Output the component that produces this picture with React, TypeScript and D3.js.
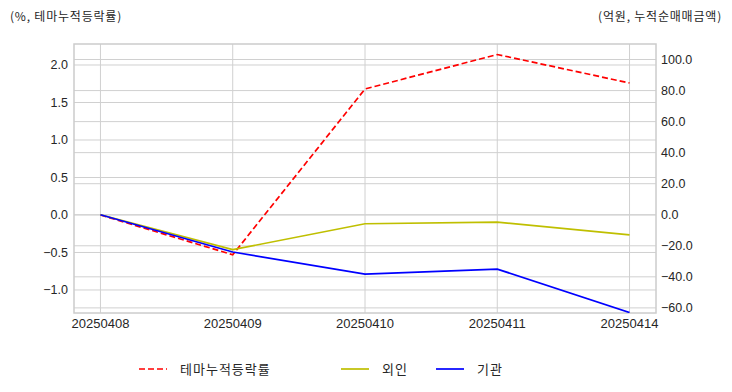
import { useEffect, useRef } from 'react';
import * as d3 from 'd3';

const dates = ['20250408', '20250409', '20250410', '20250411', '20250414'];
const themeRate = [0, -0.53, 1.68, 2.14, 1.76];
const foreign = [0, -22.5, -5.8, -4.8, -13.0];
const institution = [0, -24.0, -38.2, -35.0, -63.0];
const leftTicks = [-1.0, -0.5, 0.0, 0.5, 1.0, 1.5, 2.0];
const rightTicks = [-60, -40, -20, 0, 20, 40, 60, 80, 100];

const W = 732;
const H = 392;
const margin = { left: 74, right: 76, top: 44, bottom: 79 };
const FONT = "'Liberation Sans', Arial, sans-serif";
const KFONT = "'Noto Sans CJK KR', sans-serif";

function App() {
  const svgRef = useRef<SVGSVGElement>(null);

  useEffect(() => {
    if (svgRef.current === null) return;
    const svg = d3.select(svgRef.current);
    svg.selectAll('*').remove();

    const gw = W - margin.left - margin.right;
    const gh = H - margin.top - margin.bottom;

    const x = d3.scaleLinear().domain([-0.2, dates.length - 1 + 0.2]).range([0, gw]);
    const yL = d3.scaleLinear().domain([-1.307, 2.28]).range([gh, 0]);
    const yR = d3.scaleLinear().domain([-63.3, 110]).range([gh, 0]);

    const body = svg.append('g').attr('transform', `translate(${margin.left}, ${margin.top})`);

    const grid = body.append('g').attr('stroke', '#d0d0d0').attr('stroke-width', 1);
    dates.forEach((_, i) => {
      grid.append('line').attr('x1', x(i)).attr('x2', x(i)).attr('y1', 0).attr('y2', gh);
    });
    leftTicks.forEach((t) => {
      grid.append('line').attr('x1', 0).attr('x2', gw).attr('y1', yL(t)).attr('y2', yL(t));
    });
    rightTicks.forEach((t) => {
      grid.append('line').attr('x1', 0).attr('x2', gw).attr('y1', yR(t)).attr('y2', yR(t));
    });

    body.append('rect')
      .attr('width', gw).attr('height', gh)
      .attr('fill', 'none').attr('stroke', '#cccccc').attr('stroke-width', 1.5);

    const clip = body.append('clipPath').attr('id', 'plotclip');
    clip.append('rect').attr('x', -2).attr('y', -2).attr('width', gw + 4).attr('height', gh + 2);

    const lines = body.append('g').attr('clip-path', 'url(#plotclip)');
    const lineL = d3.line<number>().x((_, i) => x(i)).y((d) => yL(d));
    const lineR = d3.line<number>().x((_, i) => x(i)).y((d) => yR(d));

    lines.append('path').datum(themeRate).attr('d', lineL)
      .attr('fill', 'none').attr('stroke', '#ff0000').attr('stroke-width', 1.7)
      .attr('stroke-dasharray', '6,3');
    lines.append('path').datum(foreign).attr('d', lineR)
      .attr('fill', 'none').attr('stroke', '#bfbf00').attr('stroke-width', 1.7);
    lines.append('path').datum(institution).attr('d', lineR)
      .attr('fill', 'none').attr('stroke', '#0000ff').attr('stroke-width', 1.7);

    const tickText = body.append('g').attr('font-family', FONT).attr('font-size', 12.5).attr('fill', '#262626');
    leftTicks.forEach((t) => {
      tickText.append('text').attr('x', -6).attr('y', yL(t)).attr('dy', '0.35em')
        .attr('text-anchor', 'end').text(d3.format('.1f')(t));
    });
    rightTicks.forEach((t) => {
      tickText.append('text').attr('x', gw + 5).attr('y', yR(t)).attr('dy', '0.35em')
        .attr('text-anchor', 'start').text(d3.format('.1f')(t));
    });
    dates.forEach((d, i) => {
      tickText.append('text').attr('x', x(i)).attr('y', gh + 15)
        .attr('text-anchor', 'middle').attr('font-size', 13).text(d);
    });

    svg.append('text').attr('x', 10).attr('y', 21).attr('font-family', KFONT)
      .attr('font-size', 12).attr('letter-spacing', 0.8).attr('fill', '#262626').text('(%, 테마누적등락률)');
    svg.append('text').attr('x', 722).attr('y', 21).attr('font-family', KFONT)
      .attr('text-anchor', 'end').attr('font-size', 12).attr('letter-spacing', 0.8)
      .attr('fill', '#262626').text('(억원, 누적순매매금액)');

    const legendItems = [
      { label: '테마누적등락률', color: '#ff0000', dash: '6,3', x: 139 },
      { label: '외인', color: '#bfbf00', dash: null, x: 341 },
      { label: '기관', color: '#0000ff', dash: null, x: 436 },
    ];
    const legend = svg.append('g').attr('transform', 'translate(0, 369)');
    legendItems.forEach((it) => {
      legend.append('line').attr('x1', it.x).attr('x2', it.x + 28).attr('y1', 0).attr('y2', 0)
        .attr('stroke', it.color).attr('stroke-width', 1.7)
        .attr('stroke-dasharray', it.dash);
      legend.append('text').attr('x', it.x + 41).attr('y', 0).attr('dy', '0.35em')
        .attr('font-family', KFONT).attr('font-size', 13).attr('letter-spacing', 1)
        .attr('fill', '#262626').text(it.label);
    });
  }, []);

  return <svg ref={svgRef} width={W} height={H} style={{ position: 'absolute', left: 0, top: 0 }} />;
}

export default App;
